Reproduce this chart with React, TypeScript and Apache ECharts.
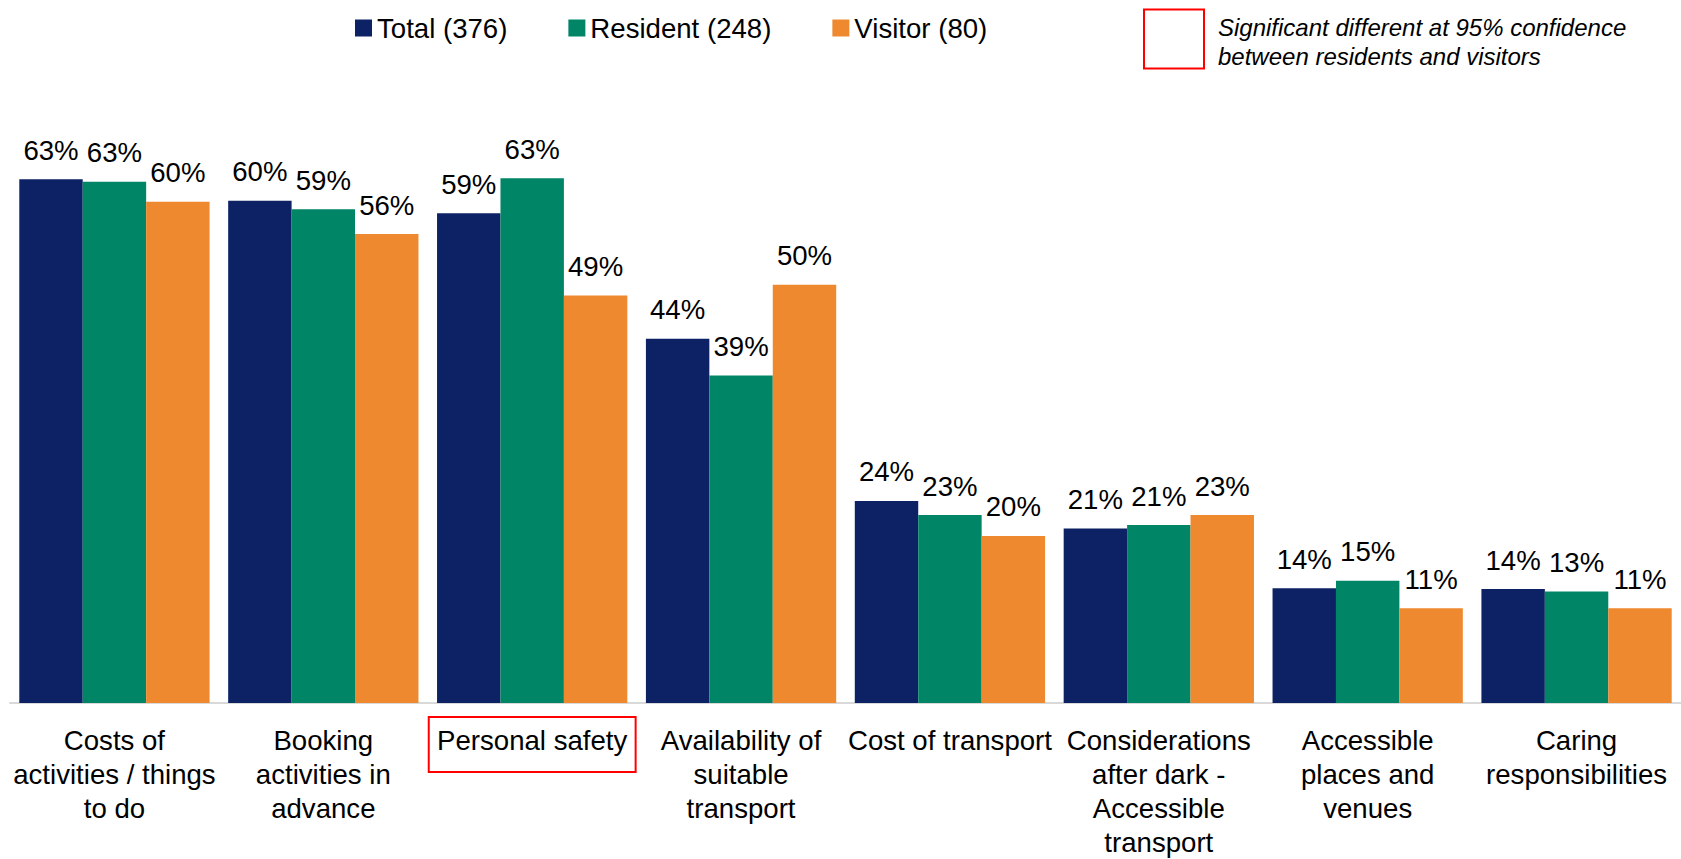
import React, { useEffect, useRef } from "react";
import * as echarts from "echarts";

const categories = [
  "Costs of\nactivities / things\nto do",
  "Booking\nactivities in\nadvance",
  "Personal safety",
  "Availability of\nsuitable\ntransport",
  "Cost of transport",
  "Considerations\nafter dark -\nAccessible\ntransport",
  "Accessible\nplaces and\nvenues",
  "Caring\nresponsibilities",
];
const seriesNames = ["Total (376)", "Resident (248)", "Visitor (80)"];
const total = [63.0, 60.4, 58.9, 43.8, 24.3, 21.0, 13.8, 13.7];
const resident = [62.7, 59.4, 63.1, 39.4, 22.6, 21.4, 14.7, 13.4];
const visitor = [60.3, 56.4, 49.0, 50.3, 20.1, 22.6, 11.4, 11.4];
const highlighted = ["Personal safety"];
const noteText = "Significant different at 95% confidence\nbetween residents and visitors";

const colors = ["#0c2264", "#008566", "#ee892f"];
const FONT = "Arial, 'Liberation Sans', Helvetica, sans-serif";
const FS = 27.6;

export default function App() {
  const ref = useRef<HTMLDivElement>(null);
  useEffect(() => {
    if (!ref.current) return;
    const chart = echarts.init(ref.current, undefined, { renderer: "svg" });
    const values = [total, resident, visitor];
    chart.setOption({
      animation: false,
      textStyle: { fontFamily: FONT },
      legend: {
        data: seriesNames,
        left: 350,
        top: 9,
        icon: "rect",
        itemWidth: 17,
        itemHeight: 17,
        itemGap: 61,
        textStyle: { fontSize: FS, color: "#000", fontFamily: FONT },
      },
      grid: { left: 10, width: 1676, top: 121, height: 588 },
      xAxis: {
        type: "category",
        data: categories,
        axisLine: { show: true, lineStyle: { color: "#d9d9d9", width: 2 } },
        axisTick: { show: false },
        axisLabel: {
          interval: 0,
          margin: 20,
          fontSize: FS,
          lineHeight: 34,
          color: "#000",
          fontFamily: FONT,
          verticalAlign: "top",
        },
      },
      yAxis: { type: "value", min: 0, max: 70, show: false, splitLine: { show: false } },
      series: seriesNames.map((name, i) => ({
        name,
        type: "bar",
        data: values[i],
        barGap: "0%",
        barCategoryGap: "8.9%",
        itemStyle: { color: colors[i] },
        label: {
          show: true,
          position: "top",
          distance: 15,
          fontSize: FS,
          color: "#000",
          fontFamily: FONT,
          formatter: (p: any) => Math.round(p.value) + "%",
        },
      })),
    });

    const graphics: any[] = [
      {
        type: "rect",
        shape: { x: 1144, y: 9.5, width: 60, height: 59 },
        style: { fill: "none", stroke: "#ff0000", lineWidth: 2 },
      },
      {
        type: "text",
        x: 1218,
        y: 12.5,
        style: {
          text: noteText,
          font: `italic 24px ${FONT}`,
          fill: "#000",
          lineHeight: 29,
          verticalAlign: "top",
        },
      },
    ];
    highlighted.forEach((cat) => {
      const idx = categories.indexOf(cat);
      const cx = chart.convertToPixel({ xAxisIndex: 0 }, idx) as number;
      const nx = chart.convertToPixel({ xAxisIndex: 0 }, idx + 1) as number;
      const bw = nx - cx;
      graphics.push({
        type: "rect",
        shape: { x: cx - bw / 2 + 1, y: 717, width: bw - 2, height: 55 },
        style: { fill: "none", stroke: "#ff0000", lineWidth: 2 },
      });
    });
    chart.setOption({ graphic: graphics });

    return () => chart.dispose();
  }, []);
  return (
    <div
      ref={ref}
      style={{ position: "absolute", left: 0, top: 0, width: 1681, height: 859, background: "#fff" }}
    />
  );
}
